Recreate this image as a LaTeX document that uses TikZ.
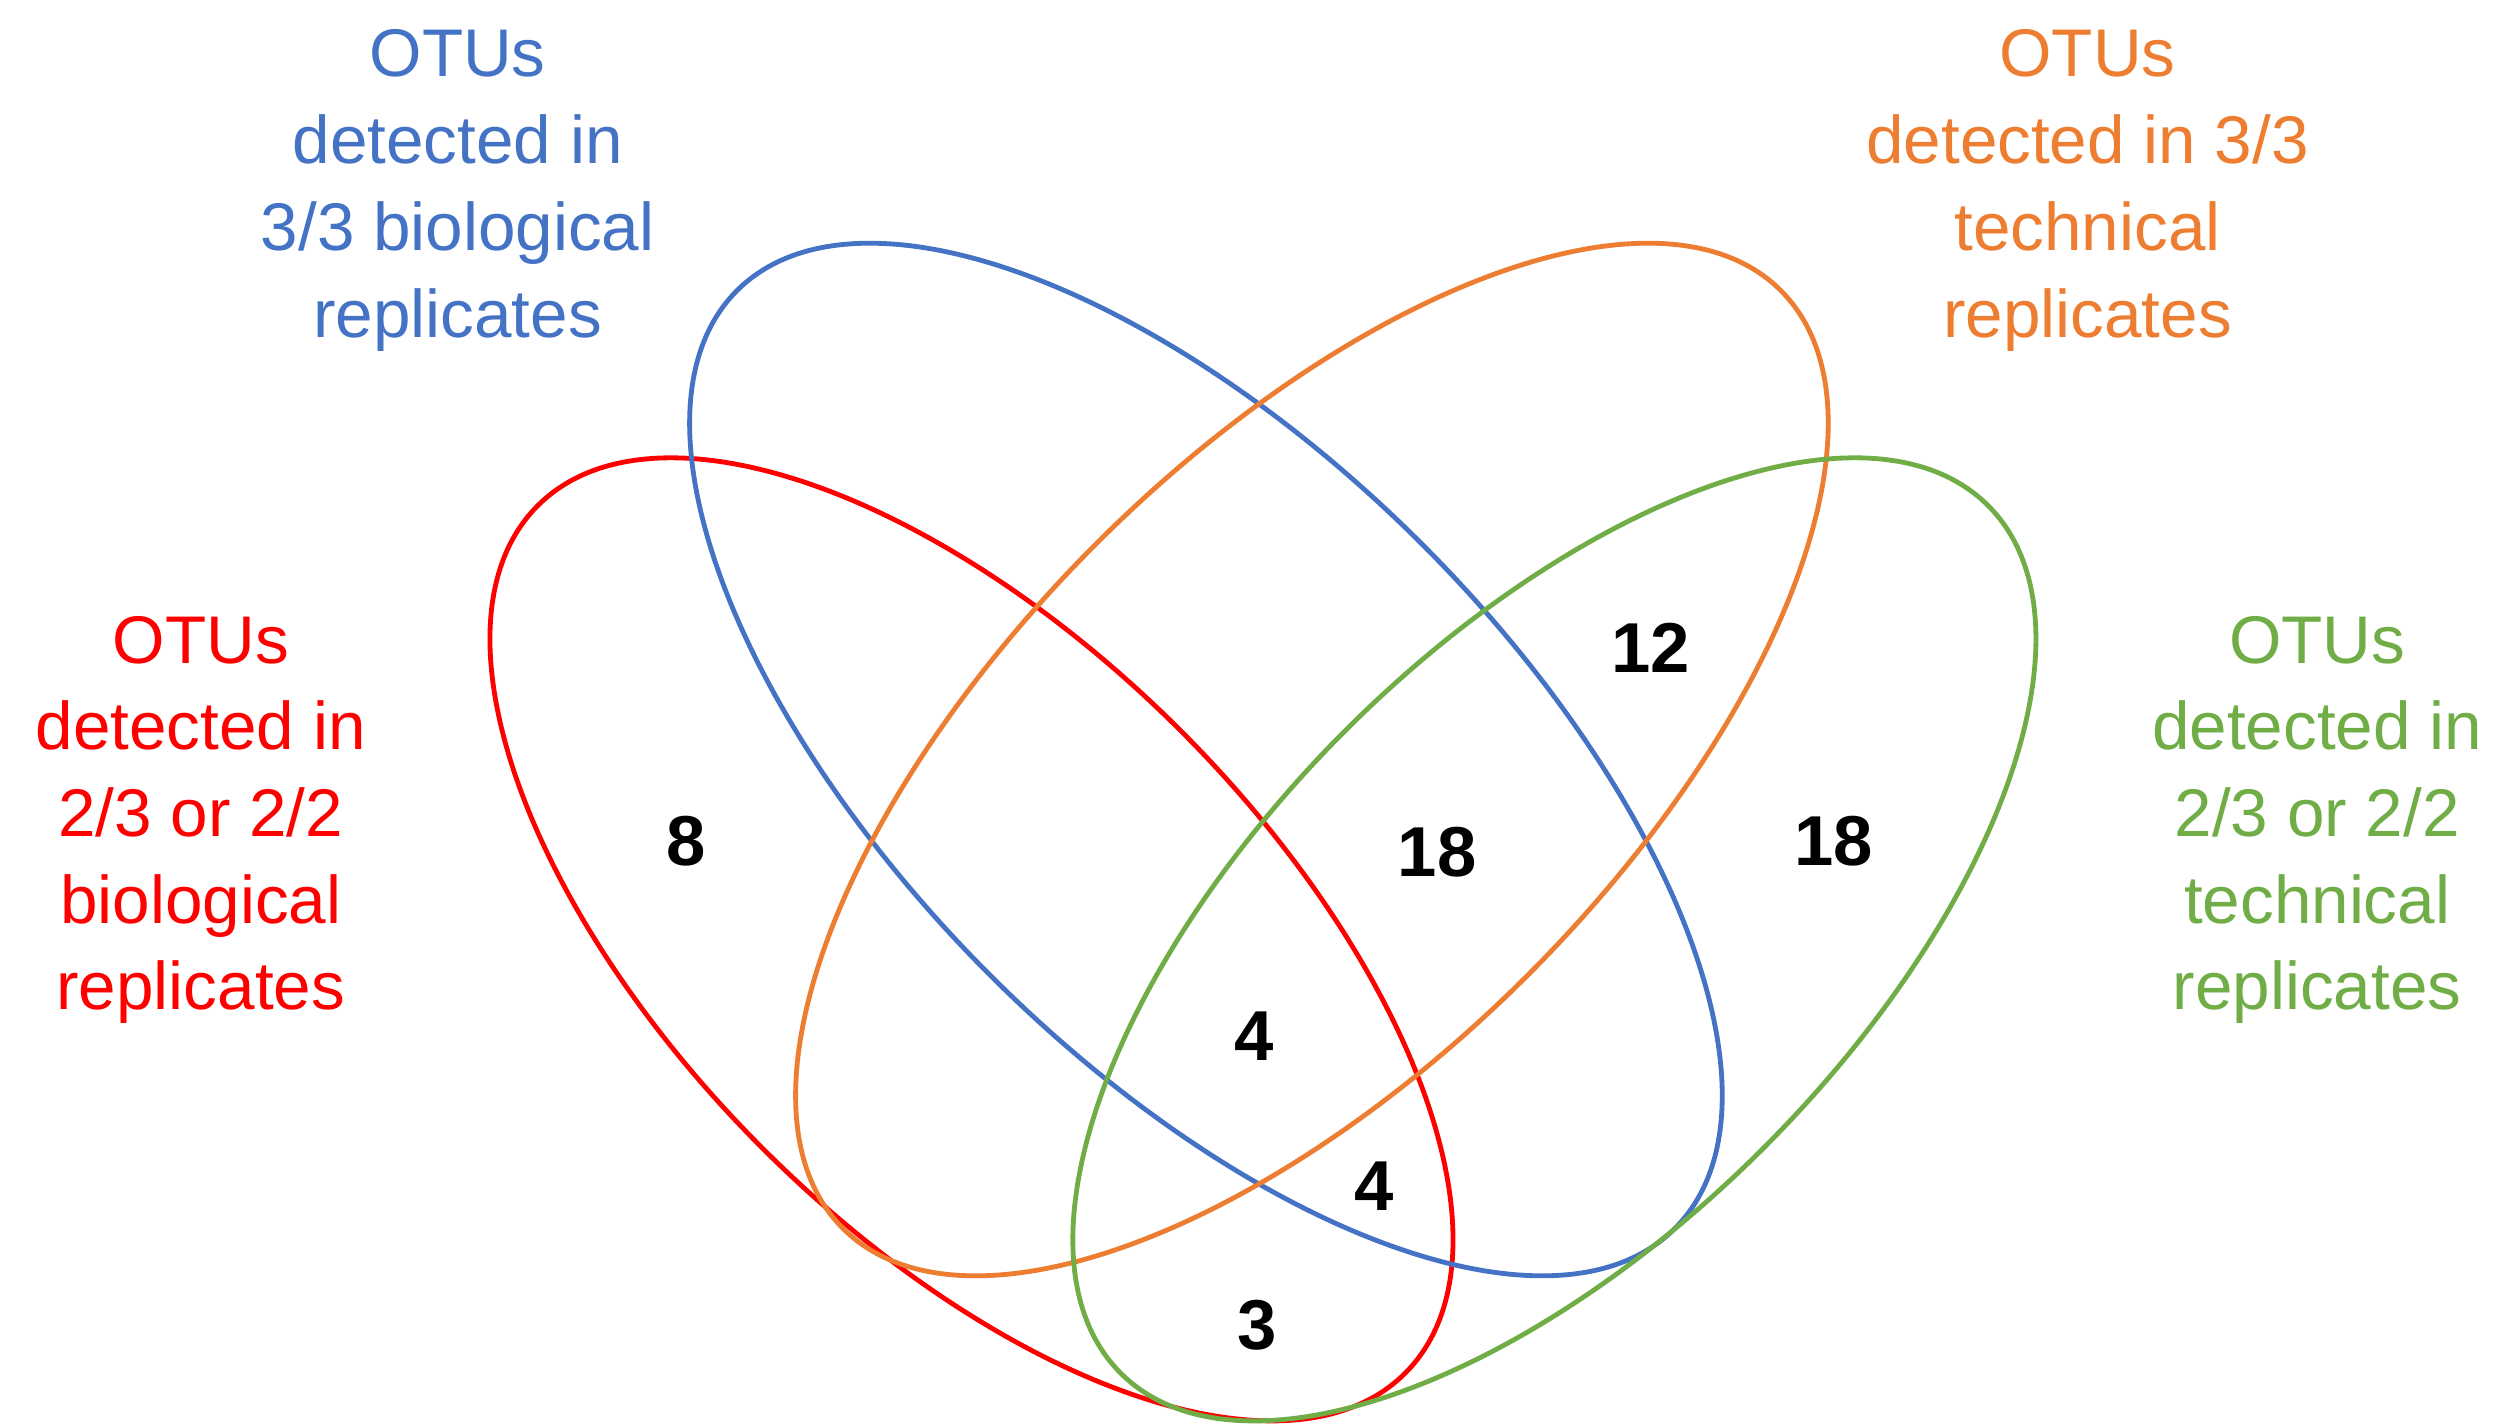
\documentclass[tikz,border=0pt]{standalone}
\usepackage{fontspec}
\setmainfont{Liberation Sans}
\definecolor{cblue}{HTML}{4472C4}
\definecolor{corange}{HTML}{ED7D31}
\definecolor{cred}{HTML}{FF0000}
\definecolor{cgreen}{HTML}{70AD47}
\begin{document}
\begin{tikzpicture}[x=0.5pt,y=0.5pt,
 ell/.style={line width=1.5pt},
 lab/.style={align=center,font=\fontsize{21}{27}\selectfont},
 num/.style={font=\fontsize{22}{26}\selectfont\bfseries}]
\useasboundingbox (0,0) rectangle (1560,888.6);
\draw[ell,cred] (605,303.6) ellipse[x radius=382,y radius=184,rotate=-45];
\draw[ell,cblue] (751,415.6) ellipse[x radius=413,y radius=190,rotate=-45];
\draw[ell,corange] (817,415.6) ellipse[x radius=413,y radius=190,rotate=45];
\draw[ell,cgreen] (968,303.6) ellipse[x radius=382,y radius=184,rotate=45];
\node[lab,cblue] (lb) at (285,770) {OTUs\\detected in\\3/3 biological\\replicates};
\node[lab,corange] (lo) at (1300,770) {OTUs\\detected in 3/3\\technical\\replicates};
\node[lab,cred] (lr) at (125,378) {OTUs\\detected in\\2/3 or 2/2\\biological\\replicates};
\node[lab,cgreen] (lg) at (1443,378) {OTUs\\detected in\\2/3 or 2/2\\technical\\replicates};
\node[num] (n1) at (427,365) {8};
\node[num] (n2) at (1028,485) {12};
\node[num] (n3) at (895,358) {18};
\node[num] (n4) at (1142,365) {18};
\node[num] (n5) at (781,243) {4};
\node[num] (n6) at (856,150) {4};
\node[num] (n7) at (783,63) {3};
\end{tikzpicture}
\end{document}
